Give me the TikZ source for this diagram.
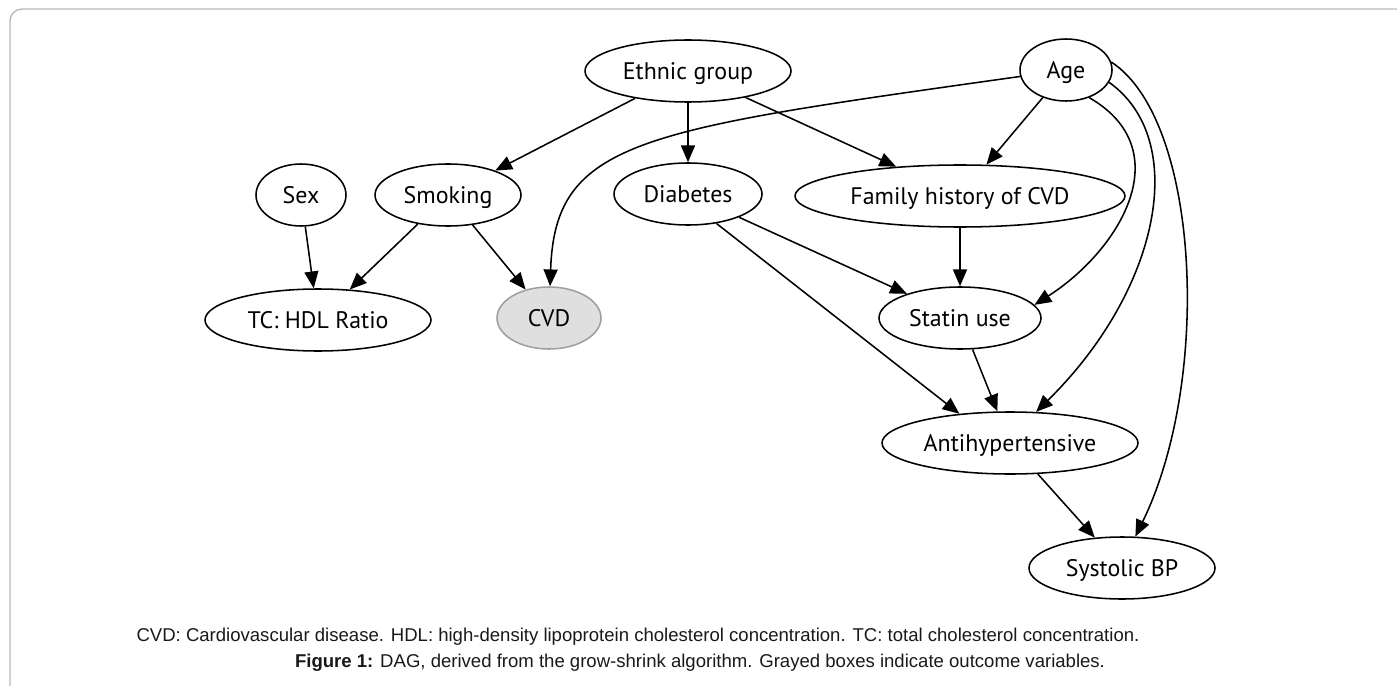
\documentclass[tikz,border=0pt]{standalone}
\usepackage{fontspec}
\setmainfont{Liberation Sans}
\newfontfamily\varfont{PT Sans}
\usepackage{tikz}
\usetikzlibrary{shapes,arrows.meta,positioning,calc}

\begin{document}
\begin{tikzpicture}[
    x=0.25mm, y=-0.25mm,
    var/.style={ellipse, draw, line width=1.1pt, minimum height=15.5mm, inner sep=0pt, text height=12pt, text depth=0pt, font=\varfont\fontsize{17}{20}\selectfont},
    outcome/.style={var, fill=gray!25, draw=gray!75},
    edge/.style={-{Triangle[length=4.2mm, width=3.5mm]}, line width=1.1pt},
    frame/.style={draw=gray!55, line width=1pt, rounded corners=3mm},
    caption/.style={font=\fontsize{13.2}{15}\selectfont, text=black!90}
]

% Frame
\useasboundingbox (0,0) rectangle (1397,686);
\clip (0,0) rectangle (1397,686);
\draw[frame] (10,9) rectangle (1440,730);

% Top row
\node[var, minimum width=51.5mm] (ethnic) at (688,71) {Ethnic group};
\node[var, minimum width=23mm] (age) at (1066,70) {Age};

% Second row
\node[var, minimum width=22.5mm] (sex) at (301,195) {Sex};
\node[var, minimum width=36.5mm] (smoking) at (448,195) {Smoking};
\node[var, minimum width=37mm] (diabetes) at (688,194) {Diabetes};
\node[var, minimum width=82.5mm] (famhist) at (960,196) {Family history of CVD};

% Third row
\node[var, minimum width=56.5mm] (tchdl) at (318,320) {TC: HDL Ratio};
\node[outcome, minimum width=26mm] (cvd) at (549,318) {CVD};
\node[var, minimum width=40.5mm] (statin) at (960,318) {Statin use};

% Lower rows
\node[var, minimum width=64mm] (antihyp) at (1010,443) {Antihypertensive};
\node[var, minimum width=46.5mm] (sysbp) at (1122,568) {Systolic BP};

% Straight edges
\draw[edge] (ethnic) -- (smoking);
\draw[edge] (ethnic) -- (diabetes);
\draw[edge] (ethnic) -- (famhist);
\draw[edge] (age) -- (famhist);
\draw[edge] (sex) -- (tchdl);
\draw[edge] (smoking) -- (tchdl);
\draw[edge] (smoking) -- (cvd);
\draw[edge] (diabetes) -- (statin);
\draw[edge] (diabetes.-46) -- (antihyp.150);
\draw[edge] (famhist) -- (statin);
\draw[edge] (statin) -- (antihyp);
\draw[edge] (antihyp) -- (sysbp);

% Curved edges from Age
\draw[edge] (age) .. controls (640,130) and (555,140) .. (cvd);
\draw[edge] (age.-50) .. controls (1180,150) and (1120,250) .. (statin.10);
\draw[edge] (age.-16) .. controls (1190,140) and (1160,290) .. (antihyp.50);
\draw[edge] (age.10) .. controls (1200,120) and (1212,380) .. (sysbp.67);

% Caption
\node[caption] (abbrev) at (638,637) {CVD: Cardiovascular disease. HDL: high-density lipoprotein cholesterol concentration. TC: total cholesterol concentration.};
\node[caption] (figcap) at (700,663) {\textbf{Figure 1:} DAG, derived from the grow-shrink algorithm. Grayed boxes indicate outcome variables.};

\end{tikzpicture}
\end{document}
